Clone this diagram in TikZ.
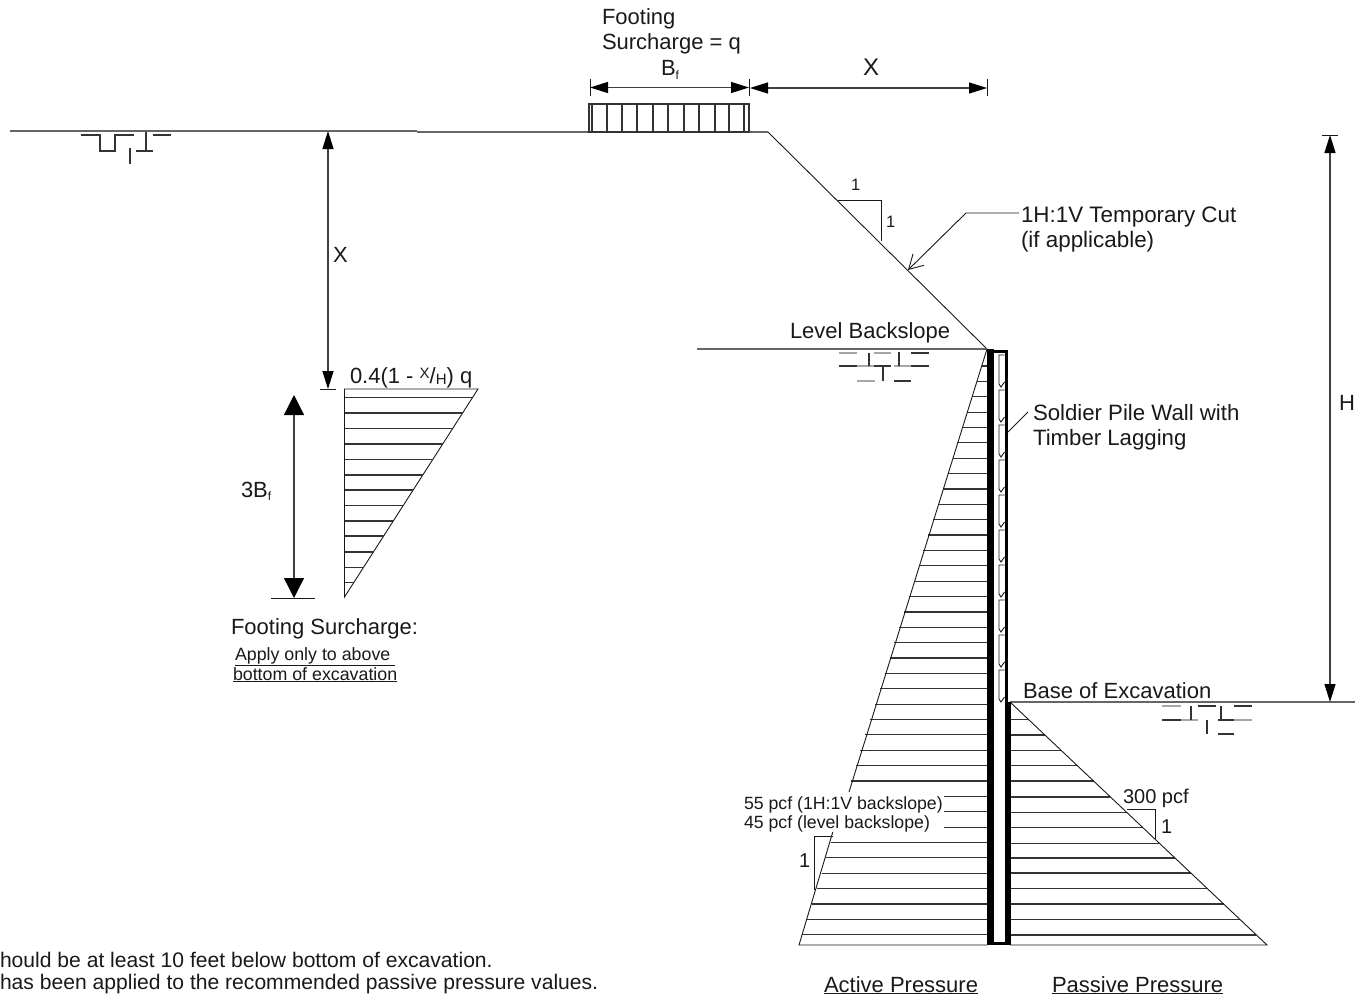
\documentclass[tikz,border=0pt]{standalone}
\usepackage{fontspec}
\setmainfont{Liberation Sans}
\usetikzlibrary{arrows.meta}
\newcommand{\fs}[1]{\fontsize{#1}{#1}\selectfont}
\tikzset{
 x=1pt,y=-1pt,
 lbl/.style={inner sep=0pt,outer sep=0pt,anchor=base west,text=black!90},
 thin line/.style={line width=0.9pt,draw=black!90},
 ground/.style={line width=1.2pt,draw=black!60},
 hatch/.style={line width=1.2pt,draw=black!80},
 soil/.style={line width=1.2pt,draw=black!80},
 soillt/.style={line width=1.2pt,draw=black!35},
 dim/.style={line width=1.3pt,draw=black!75},
 bigtip/.style={{Triangle[length=18pt,width=11pt,color=black,fill=black]}-{Triangle[length=18pt,width=11pt,color=black,fill=black]}},
 hugetip/.style={{Triangle[length=20pt,width=20pt,color=black,fill=black]}-{Triangle[length=20pt,width=20pt,color=black,fill=black]}},
}
\begin{document}
\begin{tikzpicture}
\useasboundingbox (0,0) rectangle (1355,998);
% ground lines
\coordinate (g0) at (10,131);\coordinate (g1) at (417,131);
\coordinate (g2) at (417,132);\coordinate (g3) at (768,132);
\coordinate (wt) at (987,349);\coordinate (lv) at (697,349);
\draw[ground] (g0)--(g1);
\draw[ground] (g2)--(g3);
\draw[thin line] (g3)--(wt);
\draw[ground] (lv)--(wt);
\draw[ground] (1010,702)--(1355,702);
% footing
\draw[hatch] (589,104) rectangle (749,132);
\foreach \x in {592,607,622,637,653,668,684,699,715,729,744}{\draw[hatch] (\x,104)--(\x,132);}
% dims
\draw[dim,bigtip] (590,87.5) -- (749,87.5);
\draw[dim,bigtip] (750,88) -- (987,88);
\draw[thin line] (590,79)--(590,96) (749.5,79)--(749.5,96) (987,79)--(987,96);
\draw[dim,bigtip] (328,131)--(328,389);
\draw[thin line] (320,389)--(336,389);
\draw[dim,bigtip] (1330,135)--(1330,702);
\draw[thin line] (1322,135)--(1338,135);
\draw[dim,hugetip] (294,395)--(294,598);
\draw[thin line] (271,598)--(315,598);
% surcharge triangle
\draw[thin line] (344.5,389)--(478,389)--(344.5,597)--cycle;
\foreach \y in {397.7,413,428.7,444,459.5,475,490,505.5,521,536,552,567.3,582.3}{
 \pgfmathsetmacro{\xx}{344.5+(597-\y)/208*133.5}
 \draw[hatch] (344.5,\y)--(\xx,\y);}
% soil symbols
\draw[soil] (81,135)--(100,135)--(100,151)--(115,151)--(115,135)--(134,135);
\draw[soil] (146,132)--(146,151) (136,151)--(153,151) (153,135)--(171,135) (130,148)--(130,164);
\draw[soillt] (839,353)--(857,353) (857,366)--(875,366) (894,366)--(911,366) (857,381)--(875,381) (874,353)--(891,353);
\draw[soil] (839,366)--(857,366) (869,353)--(869,366) (874,366)--(891,366) (899,352)--(899,366) (911,353)--(929,353) (911,366)--(929,366) (883,366)--(883,381) (894,381)--(911,381);
\draw[soillt] (1162,706)--(1181,706) (1181,720)--(1198,720) (1234,720)--(1252,720);
\draw[soil] (1162,720)--(1181,720) (1191,706)--(1191,720) (1198,706)--(1216,706) (1221,706)--(1221,720) (1218,720)--(1234,720) (1234,706)--(1252,706) (1207,720)--(1207,734) (1218,734)--(1234,734);
% active pressure hatch
\foreach \k in {0,...,37}{
 \pgfmathsetmacro{\yy}{934.7-15.37*\k}
 \pgfmathsetmacro{\xx}{987-(\yy-349)/596*188}
 \draw[hatch] (\xx,\yy)--(987,\yy);
}
\fill[white] (735,787) rectangle (944,832);
% active slope and base
\draw[thin line] (wt)--(849,792);
\draw[thin line] (832.8,832)--(799,945)--(987,945);
% slope triangle active
\draw[thin line] (833,836)--(814,836)--(814,890);
% passive
\foreach \y in {719.5,735,750.3,765.7,781,797,812.3,827.7,843.3,858,873,888.7,904,919.7,935}{
 \pgfmathsetmacro{\xx}{1010+(\y-702)/243*257}
 \draw[hatch] (1010,\y)--(\xx,\y);}
\draw[thin line] (1010,702)--(1267,945)--(1010,945);
\draw[thin line] (1127,809)--(1155.5,809)--(1155.5,840);
% wall
\fill[black] (987,349) rectangle (993.5,945);
\fill[black] (987,350) rectangle (1008,353);
\fill[black] (1004.5,350) rectangle (1008,702);
\fill[black] (1004.5,702) rectangle (1011,945);
\fill[black] (987,942) rectangle (1011,945);
% lagging
\foreach \b in {387,422,457,492,527,562,597,632,667,702}{
 \draw[line width=0.9pt,draw=black!90,fill=white] (1004.5,\b-32)--(999,\b-32)--(999,\b-3)--(1001,\b)--(1004.5,\b-5);
}
% slope triangle upper
\draw[thin line] (838,200)--(881,200)--(881,241);
% leaders
\coordinate (la) at (908,270);\coordinate (lb) at (966,213);\coordinate (lc) at (1019,213);
\draw[thin line,-{Straight Barb[length=14pt,width=16pt]}] (lc)--(lb)--(la);
\draw[thin line] (1028,412)--(1008,432);
% text
\node[lbl] (t1) at (602,25) {\fs{22}Footing};
\node[lbl] (t2) at (602,50) {\fs{22}Surcharge = q};
\node[lbl] (t3) at (661,76) {\fs{22}B\raisebox{-3pt}{\fs{12}f}};
\node[lbl] (t4) at (863,76) {\fs{24}X};
\node[lbl] (t5) at (333,262) {\fs{22}X};
\node[lbl] (t6) at (1339,410) {\fs{22}H};
\node[lbl] (t7) at (851,190) {\fs{16.5}1};
\node[lbl] (t8) at (886,227) {\fs{16.5}1};
\node[lbl] (t9) at (1021,222) {\fs{22.4}1H:1V Temporary Cut};
\node[lbl] (t10) at (1021,247) {\fs{22.4}(if applicable)};
\node[lbl] (t11) at (790,338) {\fs{22}Level Backslope};
\node[lbl] (t12) at (1033,420) {\fs{22.2}Soldier Pile Wall with};
\node[lbl] (t13) at (1033,445) {\fs{22.2}Timber Lagging};
\node[lbl] (t14) at (1023,698) {\fs{22}Base of Excavation};
\node[lbl] (t15) at (1123,803) {\fs{20}300 pcf};
\node[lbl] (t16) at (1161,833) {\fs{20}1};
\node[lbl] (t17) at (744,809) {\fs{17.7}55 pcf (1H:1V backslope)};
\node[lbl] (t18) at (744,828) {\fs{17.7}45 pcf (level backslope)};
\node[lbl] (t19) at (799,867) {\fs{20}1};
\node[lbl] (t20) at (241,497) {\fs{22}3B\raisebox{-3pt}{\fs{12}f}};
\node[lbl] (t21) at (350,383) {\fs{22}0.4(1 - \raisebox{5pt}{\fs{15}X}/\raisebox{-1pt}{\fs{15}H}) q};
\node[lbl] (t22) at (231,634) {\fs{22}Footing Surcharge:};
\node[lbl] (t23) at (235,660) {\fs{17.8}\underline{Apply only to above\ }};
\node[lbl] (t24) at (233,680) {\fs{17.8}\underline{bottom of excavation}};
\node[lbl] (t25) at (824,992) {\fs{22}\underline{Active Pressure}};
\node[lbl] (t26) at (1052,992) {\fs{22}\underline{Passive Pressure}};
\node[lbl] (t27) at (0,967) {\fs{21.1}hould be at least 10 feet below bottom of excavation.};
\node[lbl] (t28) at (0,989) {\fs{21.1}has been applied to the recommended passive pressure values.};
\end{tikzpicture}
\end{document}
